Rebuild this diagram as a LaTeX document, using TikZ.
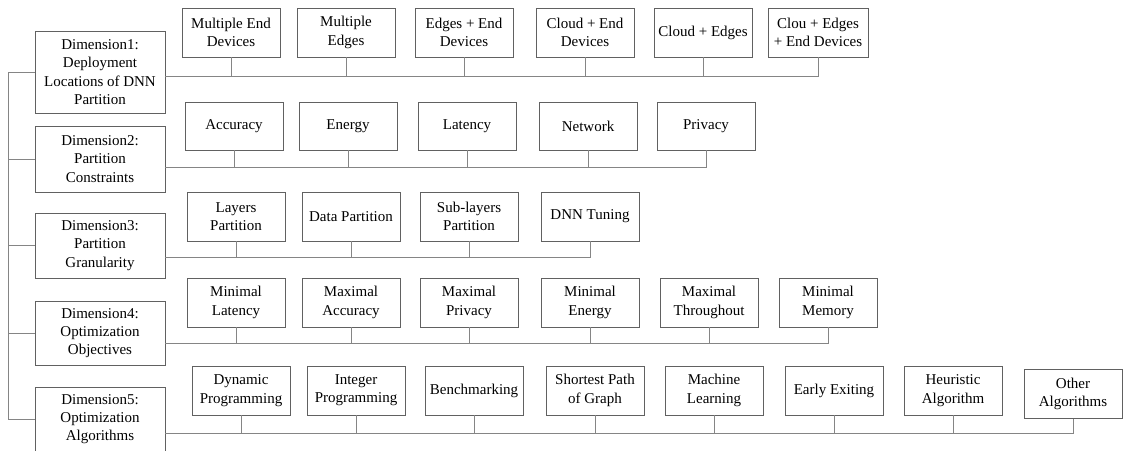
\documentclass[tikz,border=0pt]{standalone}
\usepackage{fontspec}
\setmainfont{Liberation Serif}
\begin{document}
\begin{tikzpicture}[x=1pt,y=-1pt,
  box/.style={draw=black!62, line width=0.8pt, align=center, inner sep=1pt,
    font=\fontsize{15}{18.3}\selectfont, minimum width=98pt, minimum height=49pt},
  dimbox/.style={box, minimum width=130pt},
  link/.style={draw=black!48, line width=0.8pt}]
\useasboundingbox (0,0) rectangle (1123,450);
% dimensions
\node[dimbox, minimum height=82pt] (d1) at (100,72) {Dimension1:\\Deployment\\Locations of DNN\\Partition};
\node[dimbox, minimum height=66pt] (d2) at (100,159) {Dimension2:\\Partition\\Constraints};
\node[dimbox, minimum height=65pt] (d3) at (100,245.5) {Dimension3:\\Partition\\Granularity};
\node[dimbox, minimum height=64pt] (d4) at (100,333) {Dimension4:\\Optimization\\Objectives};
\node[dimbox, minimum height=64pt] (d5) at (100,419) {Dimension5:\\Optimization\\Algorithms};
% row 1
\node[box] (i11) at (231,32.5) {Multiple End\\Devices};
\node[box] (i12) at (346,32.5) {Multiple\\Edges};
\node[box] (i13) at (464,32.5) {Edges + End\\Devices};
\node[box] (i14) at (585,32.5) {Cloud + End\\Devices};
\node[box] (i15) at (703,32.5) {Cloud + Edges};
\node[box,minimum width=100pt] (i16) at (818,32.5) {Clou + Edges\\+ End Devices};
% row 2
\node[box,minimum height=48pt] (i21) at (234,126) {Accuracy};
\node[box,minimum height=48pt] (i22) at (348,126) {Energy};
\node[box,minimum height=48pt] (i23) at (467,126) {Latency};
\node[box,minimum height=48pt] (i24) at (588,126) {Network};
\node[box,minimum height=48pt] (i25) at (706,126) {Privacy};
% row 3
\node[box] (i31) at (236,216.5) {Layers\\Partition};
\node[box] (i32) at (351,216.5) {Data Partition};
\node[box] (i33) at (469,216.5) {Sub-layers\\Partition};
\node[box] (i34) at (590,216.5) {DNN Tuning};
% row 4
\node[box] (i41) at (236,302.5) {Minimal\\Latency};
\node[box] (i42) at (351,302.5) {Maximal\\Accuracy};
\node[box] (i43) at (469,302.5) {Maximal\\Privacy};
\node[box] (i44) at (590,302.5) {Minimal\\Energy};
\node[box] (i45) at (709,302.5) {Maximal\\Throughout};
\node[box] (i46) at (828,302.5) {Minimal\\Memory};
% row 5
\node[box] (i51) at (241,390.5) {Dynamic\\Programming};
\node[box] (i52) at (356,390.5) {Integer\\Programming};
\node[box] (i53) at (474,390.5) {Benchmarking};
\node[box] (i54) at (595,390.5) {Shortest Path\\of Graph};
\node[box] (i55) at (714,390.5) {Machine\\Learning};
\node[box] (i56) at (834,390.5) {Early Exiting};
\node[box] (i57) at (953,390.5) {Heuristic\\Algorithm};
\node[box] (i58) at (1073,394) {Other\\Algorithms};
% bus coordinates
\coordinate (t) at (8,0);
\coordinate (b1) at (0,76);
\coordinate (b2) at (0,167);
\coordinate (b3) at (0,257);
\coordinate (b4) at (0,343);
\coordinate (b5) at (0,433);
% trunk
\draw[link] (d1.west) -| (t |- d5.west) -- (d5.west);
\foreach \d in {d2,d3,d4} \draw[link] (\d.west) -- (t |- \d.west);
% buses
\draw[link] (d1.east |- b1) -- (i16.south |- b1) -- (i16.south);
\foreach \i in {i11,i12,i13,i14,i15} \draw[link] (\i.south) -- (\i.south |- b1);
\draw[link] (d2.east |- b2) -- (i25.south |- b2) -- (i25.south);
\foreach \i in {i21,i22,i23,i24} \draw[link] (\i.south) -- (\i.south |- b2);
\draw[link] (d3.east |- b3) -- (i34.south |- b3) -- (i34.south);
\foreach \i in {i31,i32,i33} \draw[link] (\i.south) -- (\i.south |- b3);
\draw[link] (d4.east |- b4) -- (i46.south |- b4) -- (i46.south);
\foreach \i in {i41,i42,i43,i44,i45} \draw[link] (\i.south) -- (\i.south |- b4);
\draw[link] (d5.east |- b5) -- (i58.south |- b5) -- (i58.south);
\foreach \i in {i51,i52,i53,i54,i55,i56,i57} \draw[link] (\i.south) -- (\i.south |- b5);
\end{tikzpicture}
\end{document}
